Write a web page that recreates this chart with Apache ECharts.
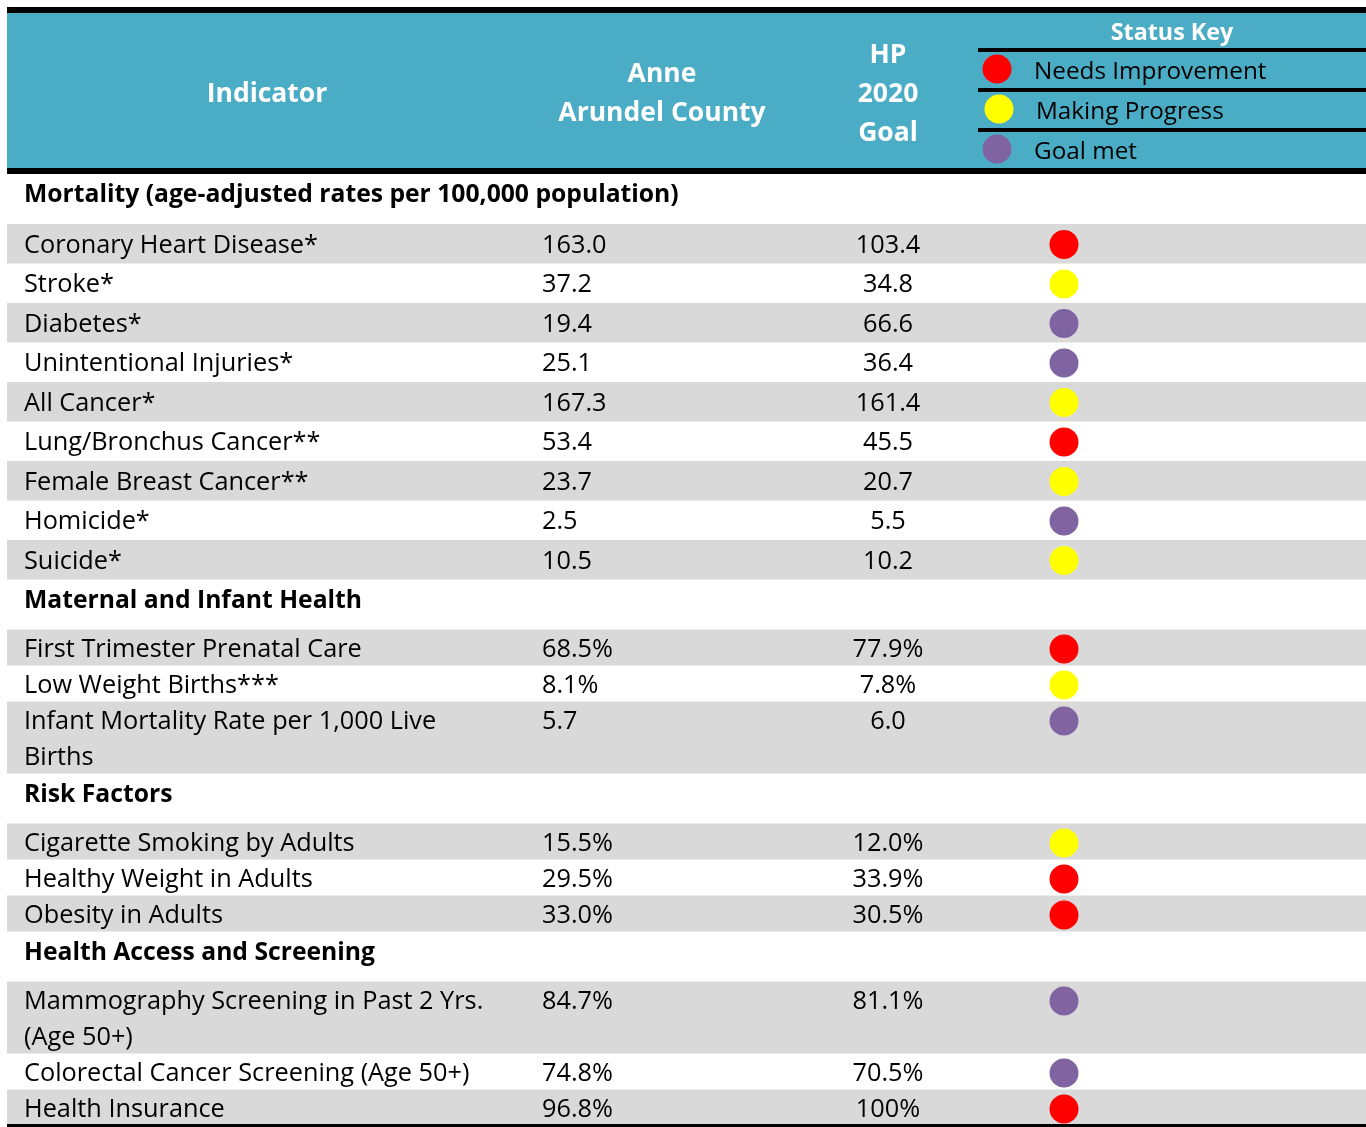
<!DOCTYPE html>
<html>
<head>
<meta charset="utf-8">
<script src="https://cdn.jsdelivr.net/npm/echarts@6/dist/echarts.min.js"></script>
<style>
  html, body { margin: 0; padding: 0; background: #fff; }
  #chart { width: 1366px; height: 1127px; }
</style>
</head>
<body>
<div id="chart"></div>
<script>
// table content
const headerLabels = ['Indicator', 'Anne\nArundel County', 'HP\n2020\nGoal'];
const statusKeyTitle = 'Status Key';
const statusKeyLabels = ['Needs Improvement', 'Making Progress', 'Goal met'];

const sections = [
  'Mortality (age-adjusted rates per 100,000 population)',
  'Maternal and Infant Health',
  'Risk Factors',
  'Health Access and Screening'
];

const indicators = [
  'Coronary Heart Disease*',
  'Stroke*',
  'Diabetes*',
  'Unintentional Injuries*',
  'All Cancer*',
  'Lung/Bronchus Cancer**',
  'Female Breast Cancer**',
  'Homicide*',
  'Suicide*',
  'First Trimester Prenatal Care',
  'Low Weight Births***',
  'Infant Mortality Rate per 1,000 Live\nBirths',
  'Cigarette Smoking by Adults',
  'Healthy Weight in Adults',
  'Obesity in Adults',
  'Mammography Screening in Past 2 Yrs.\n(Age 50+)',
  'Colorectal Cancer Screening (Age 50+)',
  'Health Insurance'
];

const indicatorSection = [0, 0, 0, 0, 0, 0, 0, 0, 0, 1, 1, 1, 2, 2, 2, 3, 3, 3];

const countyValues = [
  '163.0', '37.2', '19.4', '25.1', '167.3', '53.4', '23.7', '2.5', '10.5',
  '68.5%', '8.1%', '5.7',
  '15.5%', '29.5%', '33.0%',
  '84.7%', '74.8%', '96.8%'
];

const goalValues = [
  '103.4', '34.8', '66.6', '36.4', '161.4', '45.5', '20.7', '5.5', '10.2',
  '77.9%', '7.8%', '6.0',
  '12.0%', '33.9%', '30.5%',
  '81.1%', '70.5%', '100%'
];

// 0 = needs improvement, 1 = making progress, 2 = goal met
const statusCodes = [
  0, 1, 2, 2, 1, 0, 1, 2, 1,
  0, 1, 2,
  1, 0, 0,
  2, 2, 0
];

// layout
const W = 1366, H = 1127;
const LEFT = 7;
const TOP_RULE = [7, 13];
const HEADER = [13, 168];
const HEADER_RULE = [168, 174];
const SECTION_H = 50;
const ROW_H = [39.5, 36, 36, 36];
const LINE_H = 36;
const TEXT_X = 24, COUNTY_X = 542, GOAL_X = 888, STATUS_X = 1064;
const KEY_LEFT = 978, KEY_DOT_X = 997, KEY_TEXT_X = 1034;
const FONT = '"Open Sans", Lato, sans-serif';

const TEAL = '#4bacc6', GRAY = '#d9d9d9', BLACK = '#000000';
const statusColors = ['#ff0000', '#ffff00', '#8064a2'];

const rects = [];   // [x0, y0, x1, y1, color]
const texts = [];   // [x, y, text, styleKey]
const dots = [];    // [x, y, status]

rects.push([LEFT, TOP_RULE[0], W, TOP_RULE[1], BLACK]);
rects.push([LEFT, HEADER[0], W, HEADER[1], TEAL]);
rects.push([LEFT, HEADER_RULE[0], W, HEADER_RULE[1], BLACK]);

const headerMid = (HEADER[0] + HEADER[1]) / 2 + 3.5;
const headerX = [267, 662, GOAL_X];
headerLabels.forEach((lbl, c) => {
  const lines = lbl.split('\n');
  lines.forEach((ln, j) => {
    texts.push([headerX[c], headerMid + (j - (lines.length - 1) / 2) * 39, ln, 'head']);
  });
});

// status key block
texts.push([(KEY_LEFT + W) / 2, 33, statusKeyTitle, 'keyTitle']);
statusKeyLabels.forEach((lbl, k) => {
  const ruleTop = 48 + k * 40;
  rects.push([KEY_LEFT, ruleTop, W, ruleTop + 4, BLACK]);
  dots.push([KEY_DOT_X + (k === 1 ? 2 : 0), ruleTop + 21, k]);
  texts.push([KEY_TEXT_X + (k === 1 ? 2 : 0), ruleTop + 24.5, lbl, 'key']);
});

// body rows
let y = HEADER_RULE[1];
sections.forEach((name, s) => {
  texts.push([TEXT_X, y + 21, name, 'section']);
  y += SECTION_H;
  let k = 0;
  indicators.forEach((ind, i) => {
    if (indicatorSection[i] !== s) return;
    const lines = ind.split('\n');
    const h = ROW_H[s] * lines.length;
    if (k % 2 === 0) rects.push([LEFT, y, W, y + h, GRAY]);
    const cy = y + (s === 0 ? 19.5 : 18.5);
    lines.forEach((ln, j) => texts.push([TEXT_X, cy + 2 + j * LINE_H, ln, 'body']));
    texts.push([COUNTY_X, cy + 2, countyValues[i], 'body']);
    texts.push([GOAL_X, cy + 2, goalValues[i], 'bodyCenter']);
    dots.push([STATUS_X, cy + 1, statusCodes[i]]);
    y += h;
    k++;
  });
});
rects.push([LEFT, y - 1.5, W, y + 1.5, BLACK]);

const textStyles = {
  head: { font: 'bold 26.5px ' + FONT, fill: '#ffffff', align: 'center' },
  keyTitle: { font: 'bold 23.3px ' + FONT, fill: '#ffffff', align: 'center' },
  key: { font: '24.3px ' + FONT, fill: '#000000', align: 'left' },
  section: { font: 'bold 24.7px ' + FONT, fill: '#000000', align: 'left' },
  body: { font: '25.3px ' + FONT, fill: '#000000', align: 'left' },
  bodyCenter: { font: '25.3px ' + FONT, fill: '#000000', align: 'center' }
};

const chart = echarts.init(document.getElementById('chart'), null, { renderer: 'canvas' });

chart.setOption({
  animation: false,
  backgroundColor: '#ffffff',
  grid: { left: 0, right: 0, top: 0, bottom: 0 },
  xAxis: { type: 'value', min: 0, max: W, show: false },
  yAxis: { type: 'value', min: 0, max: H, inverse: true, show: false },
  series: [
    {
      name: 'cells',
      type: 'custom',
      silent: true,
      data: rects,
      encode: { x: [0, 2], y: [1, 3] },
      renderItem: (params, api) => {
        const r = rects[params.dataIndex];
        const p0 = api.coord([r[0], r[1]]);
        const p1 = api.coord([r[2], r[3]]);
        return {
          type: 'rect',
          shape: { x: p0[0], y: p0[1], width: p1[0] - p0[0], height: p1[1] - p0[1] },
          style: { fill: r[4] }
        };
      },
      z: 1
    },
    {
      name: 'labels',
      type: 'custom',
      silent: true,
      data: texts.map(t => [t[0], t[1]]),
      renderItem: (params, api) => {
        const t = texts[params.dataIndex];
        const p = api.coord([t[0], t[1]]);
        const st = textStyles[t[3]];
        return {
          type: 'text',
          x: p[0],
          y: p[1],
          style: {
            text: t[2],
            font: st.font,
            fill: st.fill,
            align: st.align,
            verticalAlign: 'middle'
          }
        };
      },
      z: 3
    },
    {
      name: 'status',
      type: 'scatter',
      silent: true,
      symbol: 'circle',
      symbolSize: 29,
      itemStyle: { opacity: 1 },
      data: dots.map(d => ({ value: [d[0], d[1]], itemStyle: { color: statusColors[d[2]], opacity: 1 } })),
      z: 4
    }
  ]
});
</script>
</body>
</html>
